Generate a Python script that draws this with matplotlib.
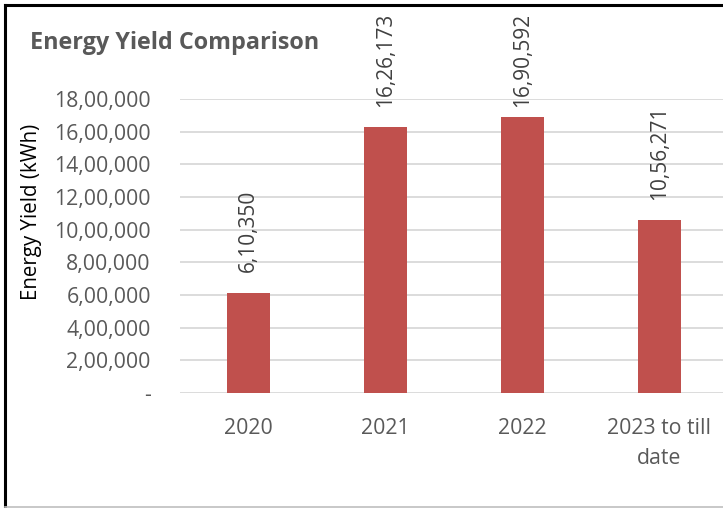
import matplotlib.pyplot as plt
from matplotlib.lines import Line2D
from matplotlib.ticker import FuncFormatter

categories = ['2020', '2021', '2022', '2023 to till\ndate']
energy_kwh = [610350, 1626173, 1690592, 1056271]
y_ticks = [0, 200000, 400000, 600000, 800000, 1000000,
           1200000, 1400000, 1600000, 1800000]

BAR_COLOR = '#C0504D'
TEXT_GRAY = '#595959'
GRID_GRAY = '#D9D9D9'

plt.rcParams['font.family'] = ['Open Sans', 'DejaVu Sans']


def indian_format(v):
    """Group digits the Indian way: 16,26,173."""
    s = str(int(round(v)))
    if len(s) <= 3:
        return s
    head, tail = s[:-3], s[-3:]
    parts = []
    while len(head) > 2:
        parts.insert(0, head[-2:])
        head = head[:-2]
    if head:
        parts.insert(0, head)
    return ','.join(parts + [tail])


W, H = 723, 508
fig = plt.figure(figsize=(W / 100, H / 100), dpi=100)

# axes placed in pixel terms of the reference (plot runs off the right edge)
left, right, top, bottom = 180, 723, 99, 393
cat_px = 137
ax = fig.add_axes([left / W, 1 - bottom / H, (right - left) / W, (bottom - top) / H])

x = list(range(len(categories)))
bars = ax.bar(x, energy_kwh, width=0.314, color=BAR_COLOR, zorder=3)

ax.set_xlim(-0.5, -0.5 + (right - left) / cat_px)
ax.set_ylim(0, 1800000)
ax.set_yticks(y_ticks)
ax.yaxis.set_major_formatter(FuncFormatter(lambda v, _: '-' if v == 0 else indian_format(v)))
ax.set_xticks(x)
ax.set_xticklabels(categories, linespacing=1.55)

ax.grid(axis='y', color=GRID_GRAY, linewidth=1.3, zorder=0)
for side in ['top', 'right', 'left', 'bottom']:
    ax.spines[side].set_visible(False)
ax.tick_params(axis='both', length=0, labelsize=15.3, colors=TEXT_GRAY)
ax.tick_params(axis='y', pad=21)
ax.tick_params(axis='x', pad=18)

ax.set_ylabel('Energy Yield (kWh)', fontsize=14.8, color='black')
ax.yaxis.set_label_coords(-(180 - 42) / (right - left), (393 - 212) / (bottom - top))

fig.text(30 / W, 1 - 43 / H, 'Energy Yield Comparison', fontsize=16.8,
         fontweight='bold', color=TEXT_GRAY, va='center', ha='left')

# value labels, rotated, pushed down if they would run off the top
labels = []
for b, v in zip(bars, energy_kwh):
    t = ax.annotate(indian_format(v), (b.get_x() + b.get_width() / 2, v),
                    xytext=(0, 15), textcoords='offset points',
                    rotation=90, ha='center', va='bottom',
                    fontsize=15, color='#404040', annotation_clip=False)
    labels.append(t)

fig.canvas.draw()
renderer = fig.canvas.get_renderer()
for t in labels:
    bb = t.get_window_extent(renderer)
    over = bb.y1 - (H - 13)
    if over > 0:
        dx, dy = t.xyann
        t.xyann = (dx, dy - over * 72 / 100)

# outer frame: dark left/top, light bottom
fig.add_artist(Line2D([5 / W, 5 / W], [0, 1 - 5 / H], color='black', linewidth=2.2))
fig.add_artist(Line2D([5 / W, 1], [1 - 5 / H, 1 - 5 / H], color='black', linewidth=2.2))
fig.add_artist(Line2D([5 / W, 1], [1 - 507 / H, 1 - 507 / H], color='#BFBFBF', linewidth=1.2))

fig.savefig('out.png', dpi=100)
